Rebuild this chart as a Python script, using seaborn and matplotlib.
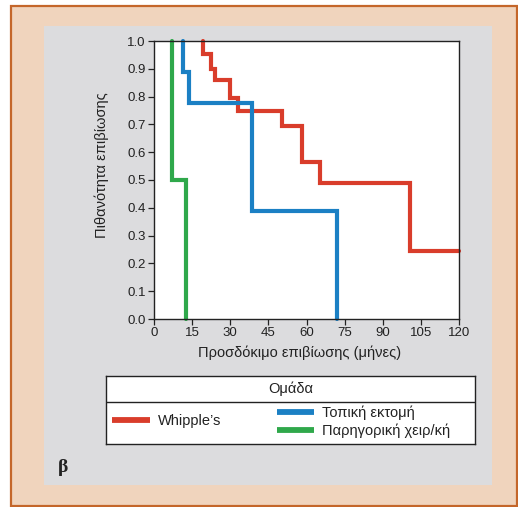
import matplotlib
matplotlib.use("Agg")
import matplotlib.pyplot as plt
from matplotlib.patches import Rectangle
from matplotlib.lines import Line2D
import seaborn as sns
import pandas as pd

# ---- data ----
groups = ["Whipple’s", "Τοπική εκτομή", "Παρηγορική χειρ/κή"]
whipple_times = [19.4, 22.3, 24.0, 29.9, 33.2, 50.2, 58.4, 65.4, 100.7]
whipple_surv = [0.955, 0.90, 0.86, 0.795, 0.75, 0.695, 0.565, 0.49, 0.245]
whipple_end = 120
local_times = [11.5, 13.8, 38.7, 71.9]
local_surv = [0.889, 0.778, 0.389, 0.0]
local_end = 71.9
pall_times = [7.0, 12.6]
pall_surv = [0.5, 0.0]
pall_end = 12.6
colors = ["#d93d2b", "#1b80c4", "#2fa84b"]
x_ticks = [0, 15, 30, 45, 60, 75, 90, 105, 120]
y_ticks = [0.0, 0.1, 0.2, 0.3, 0.4, 0.5, 0.6, 0.7, 0.8, 0.9, 1.0]

rows = []
for g, t, s, e in zip(groups, [whipple_times, local_times, pall_times],
                      [whipple_surv, local_surv, pall_surv],
                      [whipple_end, local_end, pall_end]):
    xs = list(t) + [e]
    ys = [1.0] + list(s)
    for i, (xx, yy) in enumerate(zip(xs, ys)):
        rows.append({"group": g, "time": xx, "surv": yy, "order": i})
df = pd.DataFrame(rows)

sns.set_style("ticks")
plt.rcParams["font.family"] = ["Liberation Sans", "DejaVu Sans"]

W, H = 518, 507
fig = plt.figure(figsize=(W / 100, H / 100), dpi=100)
fig.patch.set_facecolor("white")

def fx(x):
    return x / W

def fy(y):
    return 1 - y / H

# outer peach box with orange border
fig.add_artist(Rectangle((fx(11), fy(506)), (517 - 11) / W, (506 - 5.5) / H,
                         transform=fig.transFigure, facecolor="#f0d4bd",
                         edgecolor="#c4662a", linewidth=1.6, zorder=0))
# inner gray panel
fig.add_artist(Rectangle((fx(43.5), fy(485)), (492 - 43.5) / W, (485 - 25.7) / H,
                         transform=fig.transFigure, facecolor="#dcdcde",
                         edgecolor="none", zorder=0.5))

ax = fig.add_axes([fx(154), fy(319), 305 / W, 278 / H])
ax.set_facecolor("white")
ax.set_zorder(2)

sns.lineplot(data=df, x="time", y="surv", hue="group", hue_order=groups,
             palette=colors, estimator=None, sort=False, units="group",
             drawstyle="steps-pre", linewidth=3.0, legend=False, ax=ax)
for ln in ax.lines:
    ln.set_solid_joinstyle("miter")
    ln.set_clip_on(False)

ax.set_xlim(0, 120)
ax.set_ylim(0, 1.0)
ax.set_xticks(x_ticks)
ax.set_xticklabels([str(v) for v in x_ticks])
ax.set_yticks(y_ticks)
ax.set_yticklabels([f"{v:.1f}" for v in y_ticks])
ax.tick_params(axis="both", direction="out", length=4, width=0.9,
               labelsize=9.5, color="#222222", labelcolor="#222222", pad=2)
for sp in ax.spines.values():
    sp.set_visible(True)
    sp.set_color("#222222")
    sp.set_linewidth(1.0)
ax.set_xlabel("Προσδόκιμο επιβίωσης (μήνες)", fontsize=10.5, color="#222222", labelpad=5)
ax.set_ylabel("Πιθανότητα επιβίωσης", fontsize=10.5, color="#222222", labelpad=12)
ax.xaxis.set_label_coords((300 - 154) / 305, -(353 - 319) / 278)
ax.yaxis.set_label_coords(-(154 - 102) / 305, (319 - 165) / 278)
ax.xaxis.label.set_va("center")
ax.yaxis.label.set_va("center")

# legend box
lax = fig.add_axes([fx(105.5), fy(443.5), 369.5 / W, 68 / H])
lax.set_zorder(2)
lax.set_facecolor("white")
lax.set_xlim(0, 369.5)
lax.set_ylim(68, 0)
lax.set_xticks([])
lax.set_yticks([])
for sp in lax.spines.values():
    sp.set_visible(True)
    sp.set_color("#222222")
    sp.set_linewidth(1.0)
lax.axhline(26, color="#222222", linewidth=1.0)
lax.text(185, 13.5, "Ομάδα", ha="center", va="center", fontsize=10.5, color="#222222")

h = [Line2D([], [], color=c, linewidth=4.2, solid_capstyle="butt") for c in colors]
leg1 = lax.legend([h[0]], [groups[0]], loc="center left",
                  bbox_to_anchor=(6.5 / 369.5, 1 - 45.5 / 68), frameon=False,
                  fontsize=10.5, handlelength=2.6, handletextpad=0.55,
                  borderaxespad=0, borderpad=0.0)
lax.add_artist(leg1)
leg2 = lax.legend(h[1:], groups[1:], loc="center left",
                  bbox_to_anchor=(171 / 369.5, 1 - 46 / 68), frameon=False,
                  fontsize=10.5, handlelength=2.6, handletextpad=0.55,
                  labelspacing=0.25, borderaxespad=0, borderpad=0.0)
for leg in (leg1, leg2):
    for t in leg.get_texts():
        t.set_color("#222222")

fig.text(fx(63), fy(468), "β", fontsize=14, fontweight="bold",
         family=["Liberation Serif", "DejaVu Serif"], ha="center", va="center",
         color="#222222", zorder=3)

fig.savefig("out.png", dpi=100)
